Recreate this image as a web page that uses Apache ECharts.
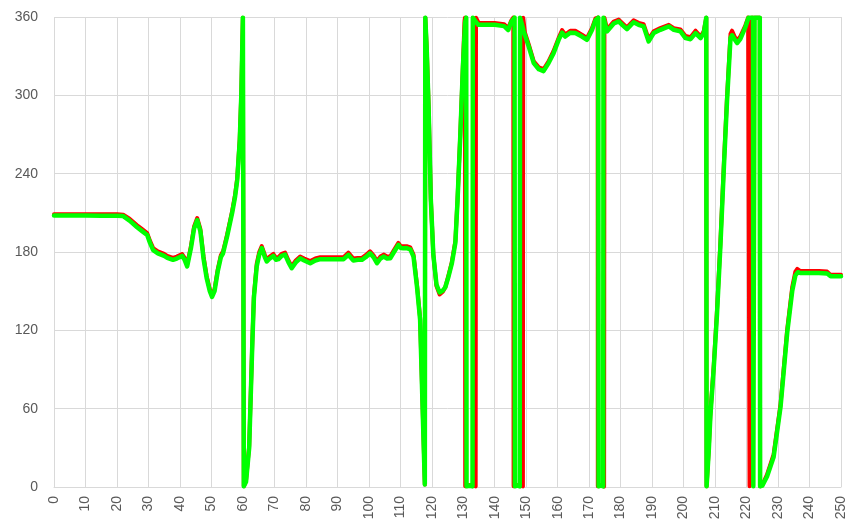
<!DOCTYPE html>
<html>
<head>
<meta charset="utf-8">
<script src="https://cdn.jsdelivr.net/npm/echarts@6/dist/echarts.min.js"></script>
<style>
html,body{margin:0;padding:0;background:#fff;}
#chart{width:847px;height:525px;}
</style>
</head>
<body>
<div id="chart"></div>
<script>
// Tick labels
const xTicks = [0,10,20,30,40,50,60,70,80,90,100,110,120,130,140,150,160,170,180,190,200,210,220,230,240,250];
const yTicks = [0,60,120,180,240,300,360];

// Green series (x, angle)
const greenX = [
  0,5,10,15,20,22,24,26.4,28,29.6,
  30.5,31.5,33,35,36,37.8,39,40.7,41.5,42.3,
  43.5,44.5,45.5,46.5,47.5,48.5,49.5,50.2,51,52,
  53,53.7,55,56.6,57.5,58.2,59,59.5,60,60.3,
  61,62,63,63.5,64.4,65.2,66,67,67.6,68.5,
  69.7,70.5,71.3,72.3,73.4,74.5,75.5,76.8,78.2,79.5,
  81.4,83,84.6,86,87.7,90,92,93.5,95.1,96.5,
  97.8,99,100.4,101.5,102.6,103.7,104.7,105.8,106.8,108,
  109.4,110.2,111,112,113.2,114.2,115.3,116.3,117.1,117.8,
  117.95,118.4,119,119.7,120.5,121.5,122.5,123.5,124.3,125.3,
  126.4,127.5,128.2,129.1,129.9,130.6,130.95,131.05,132,132.95,
  133.05,133.8,134.8,137,140,143,144.3,145.2,146.3,146.4,
  147.2,147.95,148.05,148.6,149.2,150.8,152.4,154,155.5,157.1,
  158.7,160.3,161.4,162.4,164,165.6,167.7,169.3,170.9,172,
  172.9,173,173.8,174.45,174.55,175.7,177.8,179.4,180.5,182,
  184.1,185.7,187.3,188.9,190.5,192.6,195.3,196.9,199,200.6,
  202.2,203.8,205.4,206.4,207.2,207.3,207.5,208,208.5,209.6,
  210.6,211.7,212.8,213.8,214.9,215.4,216.2,217,218,219.6,
  220.6,222.05,222.15,222.45,222.55,224.2,224.3,225,226.5,228.6,
  230.8,232.9,234.5,235.5,236.3,237,240,243,245.6,246.7,250
];
const greenY = [
  208,208,208,207.8,207.8,207.5,204,199,196,193,
  187,181.5,179,177,175.5,174,175,177,174,169,
  183,198,204.5,196,175,160,150,145.6,150,165,
  176,179,192,210,222,235,265,300,359.5,0.5,
  4,30,110,145,169,178,183,176,172.7,175,
  177,174,174.5,177,178,172,167.6,172,175.2,173.5,
  171.4,173.5,174.5,174.5,174.5,174.5,174.5,177.8,173.4,174,
  174,176,179,176,171.4,175,176.5,175,175.2,180,
  185.4,183,182.9,183,182,176.5,153.5,128,60,2,
  359.5,335,290,220,178,155,149,150.5,153,161,
  171.4,187,220,271,322,356,359.5,0.5,1,0.5,
  359.5,357,354,354,354,353,350,356,359.5,0.5,
  1,0.5,359.5,355,349,337.4,324.7,320,318.5,324.7,
  332.3,342.5,348,345,348,347.7,345,342.5,350,357.6,
  359.5,0.5,1,0.5,359.5,349,355,356.6,354,350.7,
  356,354,352.8,341.3,347.7,350.2,352.8,350.2,349,343.8,
  343,347.7,343.8,347.7,359.5,0.5,1,28,54,92,
  132,185,245,296,344,346,343,340,343,352,
  359.5,359.5,0.5,0.5,359.5,359.5,0.5,1,8,23,
  61.5,118,150,162,164.5,164,164,164,163.5,161.5,161.5
];

// Red series (x, angle)
const redX = [
  0,5,10,15,20,22,24,26.4,28,29.6,
  30.5,31.5,33,35,36,37.8,39,40.7,41.5,42.3,
  43.5,44.5,45.5,46.5,47.5,48.5,49.5,50.2,51,52,
  53,53.7,55,56.6,57.5,58.2,59,59.5,60,60.3,
  61,62,63,63.5,64.4,65.2,66,67,67.6,68.5,
  69.7,70.5,71.3,72.3,73.4,74.5,75.5,76.8,78.2,79.5,
  81.4,83,84.6,86,87.7,90,92,93.5,95.1,96.5,
  97.8,99,100.4,101.5,102.6,103.7,104.7,105.8,106.8,108,
  109.4,110.2,111,112,113.2,114.2,115.3,116.3,117.1,117.8,
  117.95,118.4,119,119.7,120.5,121.5,122.5,123.5,124.3,125.3,
  126.4,127.5,128.2,129.1,129.9,130.4,130.55,130.65,132.3,133.95,
  134.05,134.9,137,140,143,144.3,145.2,145.9,146,147.5,
  148.95,149.05,149.6,150.8,152.4,154,155.5,157.1,158.7,160.3,
  161.4,162.4,164,165.6,167.7,169.3,170.9,172,172.7,172.75,
  173.8,174.75,174.85,175.7,177.8,179.4,180.5,182,184.1,185.7,
  187.3,188.9,190.5,192.6,195.3,196.9,199,200.6,202.2,203.8,
  205.4,206.4,207.2,207.3,207.5,208,208.5,209.6,210.6,211.7,
  212.8,213.8,214.9,215.4,216.2,217,218,219.6,220.5,220.85,
  220.95,221.45,221.55,224.2,224.3,225,226.5,228.6,230.8,232.9,
  234.5,235.5,236.1,237,240,243,245.6,246.7,250
];
const redY = [
  209,209,209,209,209,208.5,205.5,200.5,197.5,194.5,
  188.5,183,180.5,178.5,177,175.5,176.5,178.5,175.5,170.5,
  184.5,199.5,206,197.5,176.5,161.5,151.5,147,151.5,166.5,
  177.5,180.5,193.5,211.5,223.5,236.5,266.5,301.5,359.5,0.5,
  5,31.5,111.5,146.5,171,180,184.5,177.5,174,176.5,
  178.5,175.5,176,178.5,179.5,173.5,169,173.5,176.5,175,
  173,175,176,176,176,176,176,179.5,175,175.5,
  175.5,177.5,180.5,177.5,173,176.5,178,176.5,176.5,181.5,
  187,184.5,184.5,184.5,183.5,178,155,129.5,61.5,2,
  359.5,336.5,291.5,221,178,154,147.5,149.5,153,162,
  172.5,188.5,221.5,272.5,323.5,357,359.5,0.5,1.5,0.5,
  359.5,355.5,355.5,355.5,354.5,351.5,357,359.5,0.5,1.5,
  0.5,359.5,348,339,326,321.5,320,326,334,344,
  350,346.5,349.5,349.5,346.5,344,351.5,359,359.5,0.5,
  1.5,0.5,359.5,350.5,356.5,358,355.5,352,357.5,355.5,
  354.5,343,349,351.5,354,351.5,350.5,345.5,344.5,349.5,
  345,349,359.5,0.5,1.5,29.5,56,94,135,188,
  248,299,347,349.5,345,342,345,353.5,359.5,359.5,
  0.5,0.5,359.5,359.5,0.5,1.5,9.5,25,63.5,120.5,
  153,165,167,165.5,165.5,165.5,165,162.5,162.5
];

const zip = (xs, ys) => xs.map((x, i) => [x, ys[i]]);

const chart = echarts.init(document.getElementById('chart'), null, {renderer: 'canvas'});
chart.setOption({
  animation: false,
  backgroundColor: '#ffffff',
  grid: {left: 54, right: 6, top: 17, bottom: 38, containLabel: false, outerBoundsMode: 'none'},
  xAxis: {
    type: 'value',
    min: xTicks[0],
    max: xTicks[xTicks.length - 1],
    interval: xTicks[1] - xTicks[0],
    axisLine: {show: true, lineStyle: {color: '#d9d9d9', width: 1}},
    axisTick: {show: false},
    splitLine: {show: true, lineStyle: {color: '#d9d9d9', width: 1}},
    axisLabel: {rotate: 90, margin: 9, color: '#595959', fontSize: 14, fontFamily: 'Liberation Sans, Arial, sans-serif'}
  },
  yAxis: {
    type: 'value',
    min: yTicks[0],
    max: yTicks[yTicks.length - 1],
    interval: yTicks[1] - yTicks[0],
    axisLine: {show: false},
    axisTick: {show: false},
    splitLine: {show: true, lineStyle: {color: '#d9d9d9', width: 1}},
    axisLabel: {margin: 16, color: '#595959', fontSize: 14, fontFamily: 'Liberation Sans, Arial, sans-serif'}
  },
  series: [
    {
      type: 'line', name: 'red', data: zip(redX, redY),
      showSymbol: false, symbol: 'none', clip: true,
      lineStyle: {color: '#ff0000', width: 4, join: 'round', cap: 'round'},
      z: 2
    },
    {
      type: 'line', name: 'green', data: zip(greenX, greenY),
      showSymbol: false, symbol: 'none', clip: true,
      lineStyle: {color: '#00ff00', width: 4.5, join: 'round', cap: 'round'},
      z: 3
    }
  ]
});
</script>
</body>
</html>
